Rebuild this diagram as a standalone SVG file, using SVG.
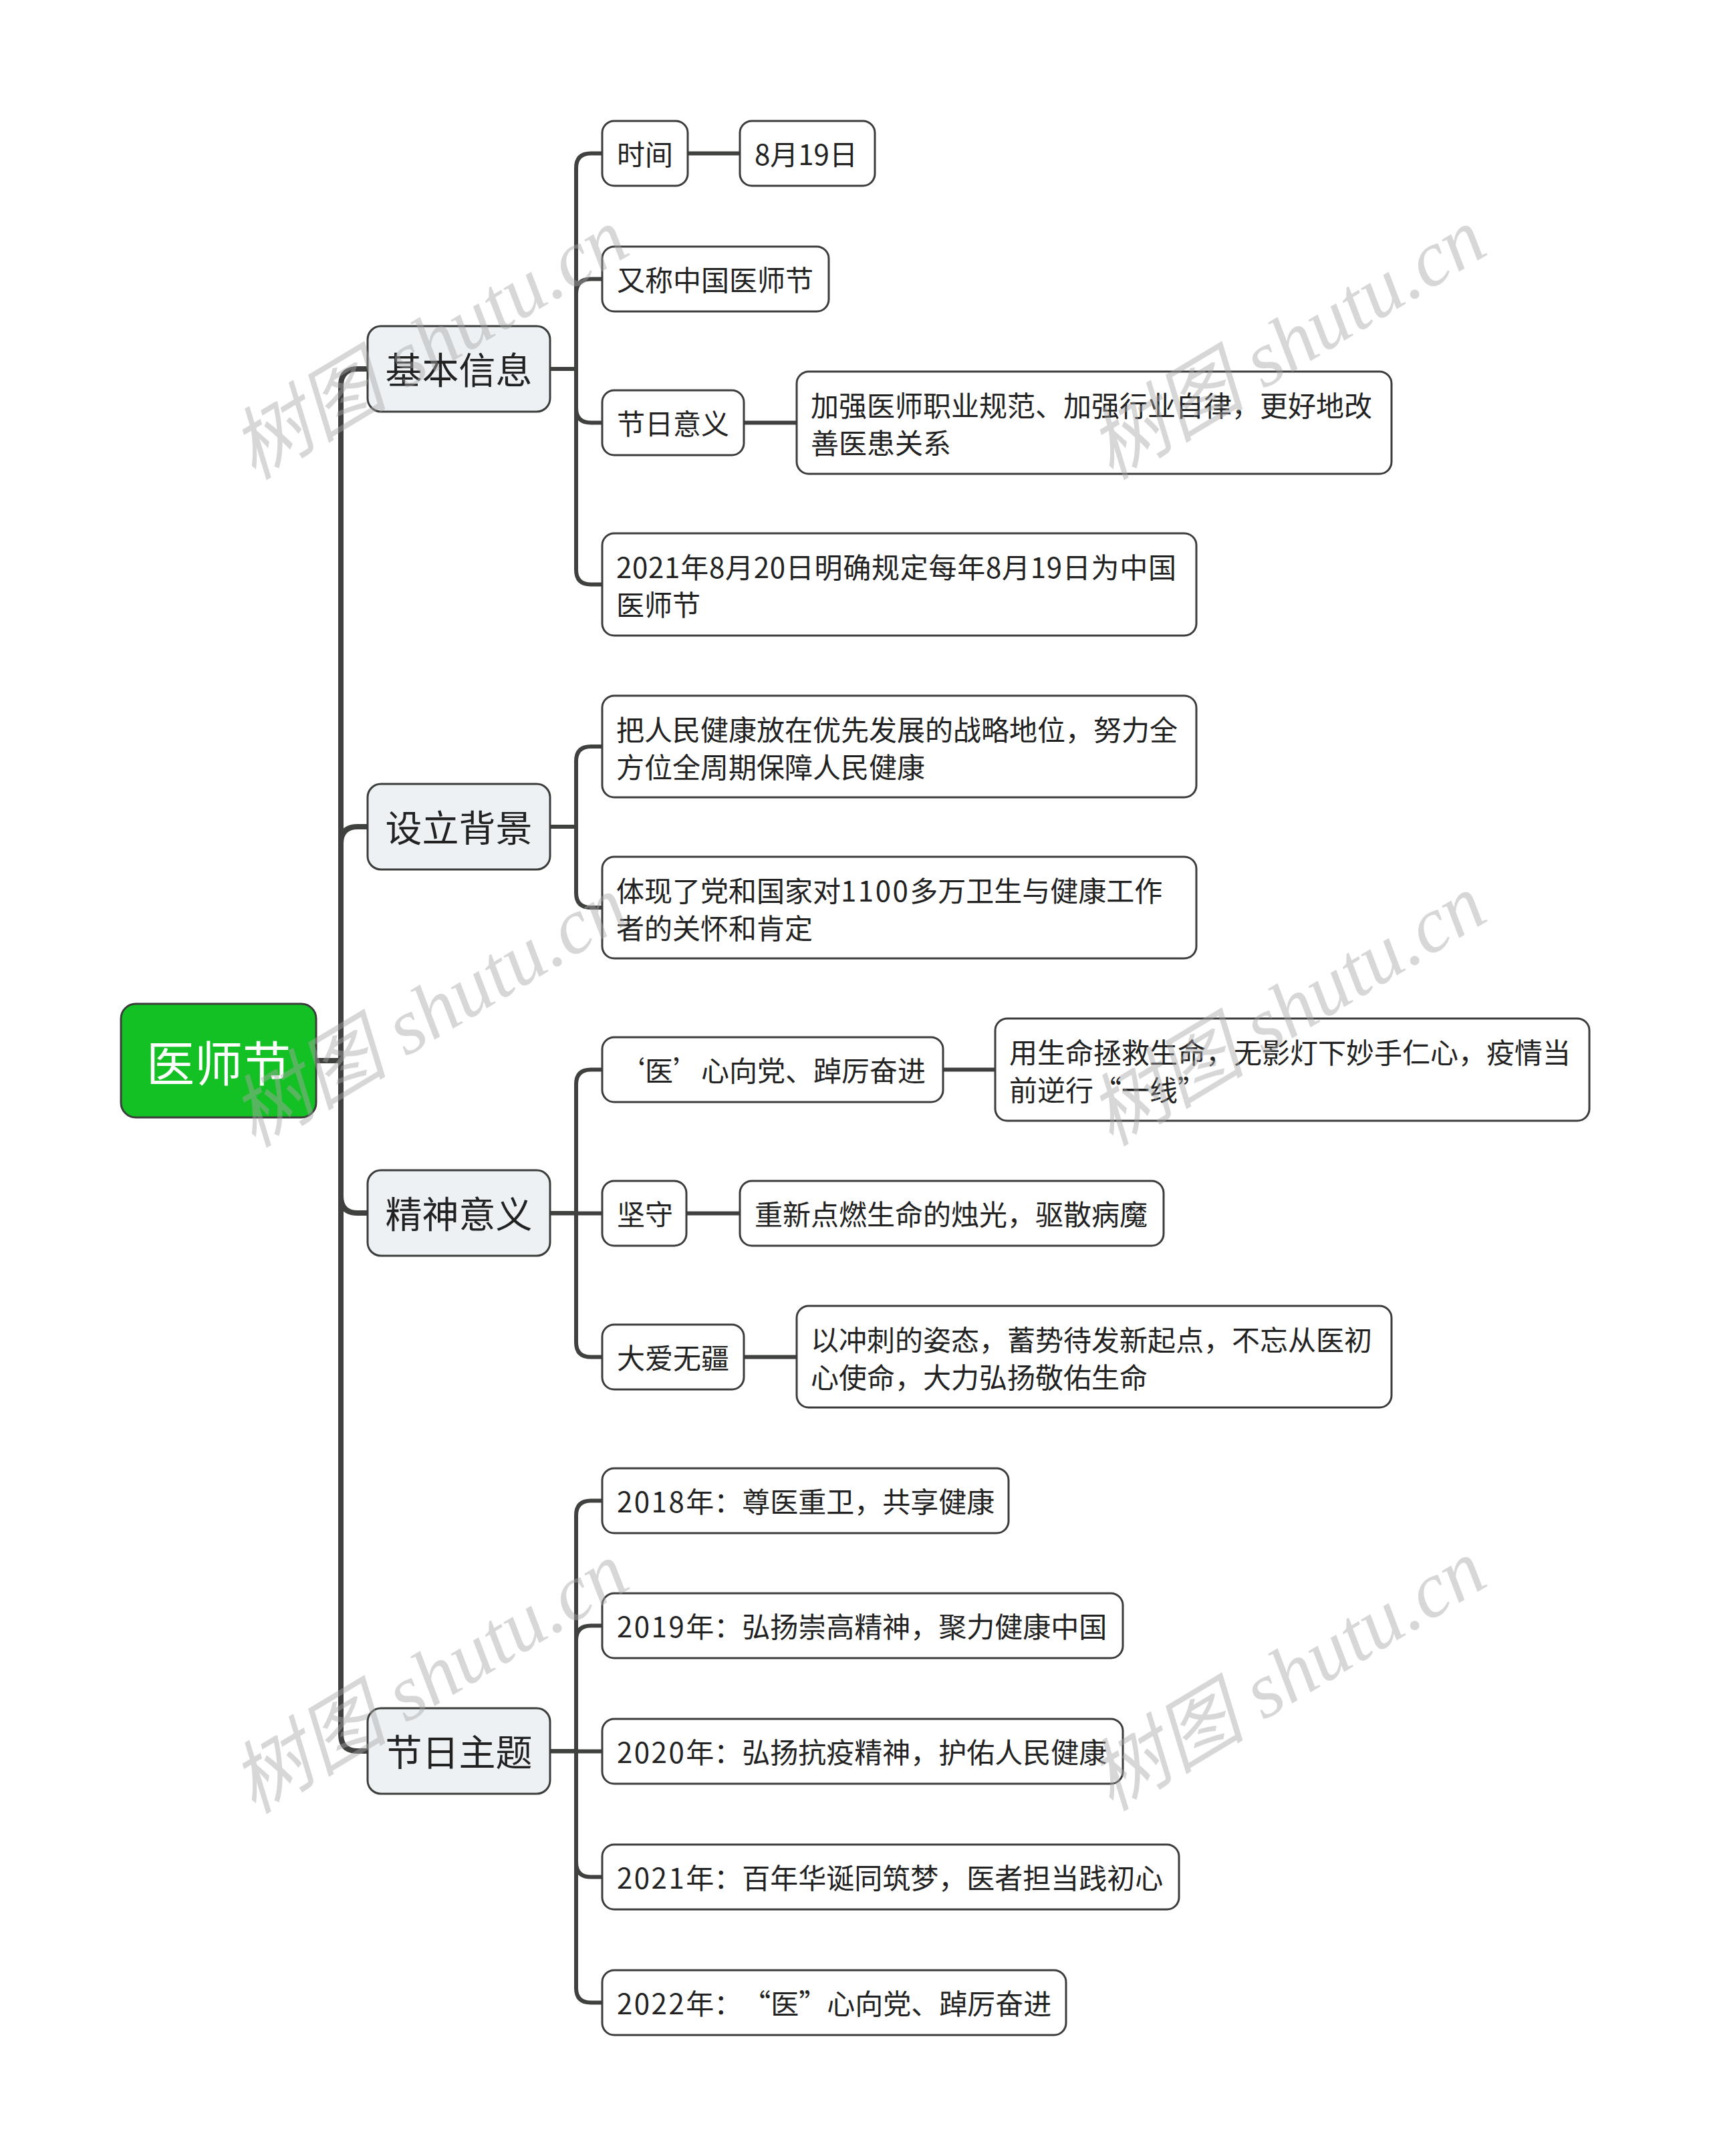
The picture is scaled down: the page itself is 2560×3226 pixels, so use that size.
<svg xmlns="http://www.w3.org/2000/svg" width="2560" height="3226" viewBox="0 0 2560 3226">
<style>
.bg{fill:#ffffff}
.root rect{fill:#14c124;stroke:#3a3d3a;stroke-width:3}
.root text{fill:#ffffff;font-size:72px}
.l1 rect{fill:#eef1f4;stroke:#3a3d3a;stroke-width:3}
.l1 text{fill:#222;font-size:55px}
.l2 rect{fill:#ffffff;stroke:#3a3d3a;stroke-width:3}
.l2 text{fill:#222;font-size:42px}
text{font-family:"Noto Sans CJK SC","Noto Sans",sans-serif}
.c{text-anchor:middle;dominant-baseline:central}
.s{text-anchor:start;dominant-baseline:central}
.d{letter-spacing:2.5px}
.conn path{fill:none;stroke:#3e413e;stroke-linejoin:round}
.main path{stroke-width:8}
.sub path{stroke-width:6}
.wm{font-family:"Liberation Serif","Noto Sans CJK SC",serif;font-style:italic;font-size:118px;fill:#a6a6a6;fill-opacity:0.45;text-anchor:middle;dominant-baseline:central}
</style>
<rect class="bg" x="0" y="0" width="2560" height="3226"/>

<g id="connectors" class="conn">
  <g class="main">
    <path d="M473,1587 H510 V577 Q510,552 535,552 H551"/>
    <path d="M473,1587 H510 V1262 Q510,1237 535,1237 H551"/>
    <path d="M473,1587 H510 V1790 Q510,1815 535,1815 H551"/>
    <path d="M473,1587 H510 V2595 Q510,2620 535,2620 H551"/>
  </g>
  <g class="sub">
    <path d="M823,552 H862 V251.5 Q862,229.5 884,229.5 H901"/>
    <path d="M823,552 H862 V439.5 Q862,417.5 884,417.5 H901"/>
    <path d="M823,552 H862 V610.5 Q862,632.5 884,632.5 H901"/>
    <path d="M823,552 H862 V852.5 Q862,874.5 884,874.5 H901"/>
    <path d="M823,1237 H862 V1139 Q862,1117 884,1117 H901"/>
    <path d="M823,1237 H862 V1336 Q862,1358 884,1358 H901"/>
    <path d="M823,1815 H862 V1622.5 Q862,1600.5 884,1600.5 H901"/>
    <path d="M823,1815.5 H901"/>
    <path d="M823,1815 H862 V2008.5 Q862,2030.5 884,2030.5 H901"/>
    <path d="M823,2620 H862 V2267.5 Q862,2245.5 884,2245.5 H901"/>
    <path d="M823,2620 H862 V2454.5 Q862,2432.5 884,2432.5 H901"/>
    <path d="M823,2620.5 H901"/>
    <path d="M823,2620 H862 V2786.5 Q862,2808.5 884,2808.5 H901"/>
    <path d="M823,2620 H862 V2974.5 Q862,2996.5 884,2996.5 H901"/>
    <path d="M1029,229.5 H1107"/>
    <path d="M1113,632.5 H1192"/>
    <path d="M1411,1600.5 H1489"/>
    <path d="M1027,1815.5 H1107"/>
    <path d="M1113,2030.5 H1192"/>
  </g>
</g>

<g id="root" class="root"><rect x="181" y="1502" width="292" height="170" rx="22"/><text class="c" x="327" y="1586">医师节</text></g>

<g id="n-jbxx" class="l1"><rect x="550" y="488" width="273" height="128" rx="20"/><text class="c" x="686.5" y="550">基本信息</text></g>
<g id="n-slbj" class="l1"><rect x="550" y="1173" width="273" height="128" rx="20"/><text class="c" x="686.5" y="1235">设立背景</text></g>
<g id="n-jsyy" class="l1"><rect x="550" y="1751" width="273" height="128" rx="20"/><text class="c" x="686.5" y="1813">精神意义</text></g>
<g id="n-jrzt" class="l1"><rect x="550" y="2556" width="273" height="128" rx="20"/><text class="c" x="686.5" y="2618">节日主题</text></g>

<g id="n-sj" class="l2"><rect x="901" y="181" width="128" height="97" rx="18"/><text class="s" x="923" y="228">时间</text></g>
<g id="n-date" class="l2"><rect x="1107" y="181" width="202" height="97" rx="18"/><text class="s" x="1129" y="228">8月19日</text></g>
<g id="n-ych" class="l2"><rect x="901" y="369" width="339" height="97" rx="18"/><text class="s" x="923" y="416">又称中国医师节</text></g>
<g id="n-jryy" class="l2"><rect x="901" y="584" width="212" height="97" rx="18"/><text class="s" x="923" y="631">节日意义</text></g>
<g id="n-jq" class="l2"><rect x="1192" y="556" width="890" height="153" rx="18"/><text class="s" x="1213" y="604">加强医师职业规范、加强行业自律，更好地改</text><text class="s" x="1213" y="660">善医患关系</text></g>
<g id="n-2021gd" class="l2"><rect x="901" y="798" width="889" height="153" rx="18"/><text class="s" x="922" y="846" textLength="838" lengthAdjust="spacing">2021年8月20日明确规定每年8月19日为中国</text><text class="s" x="922" y="902">医师节</text></g>

<g id="n-brm" class="l2"><rect x="901" y="1041" width="889" height="152" rx="18"/><text class="s" x="922" y="1089">把人民健康放在优先发展的战略地位，努力全</text><text class="s" x="922" y="1145">方位全周期保障人民健康</text></g>
<g id="n-txl" class="l2"><rect x="901" y="1282" width="889" height="152" rx="18"/><text class="s" x="922" y="1330">体现了党和国家对<tspan class="d">1100</tspan>多万卫生与健康工作</text><text class="s" x="922" y="1386">者的关怀和肯定</text></g>

<g id="n-yxxd" class="l2"><rect x="901" y="1552" width="510" height="97" rx="18"/><text class="s" x="923" y="1599">‘医’心向党、踔厉奋进</text></g>
<g id="n-ysm" class="l2"><rect x="1489" y="1524" width="889" height="153" rx="18"/><text class="s" x="1510" y="1572">用生命拯救生命，无影灯下妙手仁心，疫情当</text><text class="s" x="1510" y="1628">前逆行“一线”</text></g>
<g id="n-js" class="l2"><rect x="901" y="1767" width="126" height="97" rx="18"/><text class="s" x="923" y="1814">坚守</text></g>
<g id="n-cxdr" class="l2"><rect x="1107" y="1767" width="634" height="97" rx="18"/><text class="s" x="1129" y="1814">重新点燃生命的烛光，驱散病魔</text></g>
<g id="n-dawj" class="l2"><rect x="901" y="1982" width="212" height="97" rx="18"/><text class="s" x="923" y="2029">大爱无疆</text></g>
<g id="n-ycc" class="l2"><rect x="1192" y="1954" width="890" height="152" rx="18"/><text class="s" x="1213" y="2002">以冲刺的姿态，蓄势待发新起点，不忘从医初</text><text class="s" x="1213" y="2058">心使命，大力弘扬敬佑生命</text></g>

<g id="n-2018" class="l2"><rect x="901" y="2197" width="608" height="97" rx="18"/><text class="s" x="923" y="2244"><tspan class="d">2018</tspan>年：尊医重卫，共享健康</text></g>
<g id="n-2019" class="l2"><rect x="901" y="2384" width="779" height="97" rx="18"/><text class="s" x="923" y="2431"><tspan class="d">2019</tspan>年：弘扬崇高精神，聚力健康中国</text></g>
<g id="n-2020" class="l2"><rect x="901" y="2572" width="779" height="97" rx="18"/><text class="s" x="923" y="2619"><tspan class="d">2020</tspan>年：弘扬抗疫精神，护佑人民健康</text></g>
<g id="n-2021" class="l2"><rect x="901" y="2760" width="863" height="97" rx="18"/><text class="s" x="923" y="2807"><tspan class="d">2021</tspan>年：百年华诞同筑梦，医者担当践初心</text></g>
<g id="n-2022" class="l2"><rect x="901" y="2948" width="694" height="97" rx="18"/><text class="s" x="923" y="2995"><tspan class="d">2022</tspan>年：<tspan dx="22">“医”心向党、踔厉奋进</tspan></text></g>

<g id="watermarks">
  <text class="wm" transform="translate(643,515) rotate(-31)">树图 shutu.cn</text>
  <text class="wm" transform="translate(1926,515) rotate(-31)">树图 shutu.cn</text>
  <text class="wm" transform="translate(643,1514) rotate(-31)">树图 shutu.cn</text>
  <text class="wm" transform="translate(1926,1512) rotate(-31)">树图 shutu.cn</text>
  <text class="wm" transform="translate(643,2511) rotate(-31)">树图 shutu.cn</text>
  <text class="wm" transform="translate(1926,2507) rotate(-31)">树图 shutu.cn</text>
</g>
</svg>
